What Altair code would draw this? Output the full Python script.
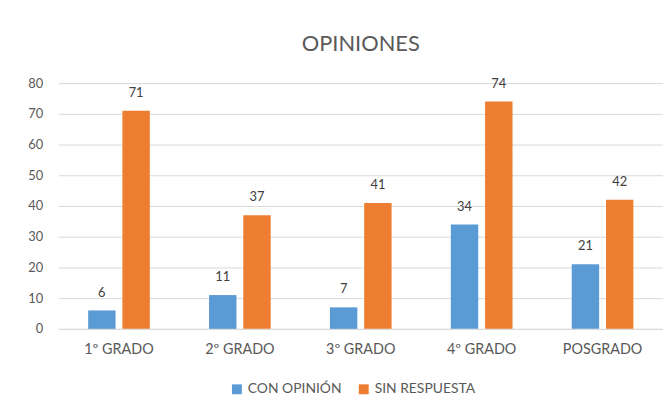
import altair as alt
import pandas as pd

categories = ["1º GRADO", "2º GRADO", "3º GRADO", "4º GRADO", "POSGRADO"]
series_names = ["CON OPINIÓN", "SIN RESPUESTA"]
con_opinion = [6, 11, 7, 34, 21]
sin_respuesta = [71, 37, 41, 74, 42]
y_ticks = [0, 10, 20, 30, 40, 50, 60, 70, 80]

rows = []
for i, c in enumerate(categories):
    rows.append({"cat": c, "serie": series_names[0], "valor": con_opinion[i]})
    rows.append({"cat": c, "serie": series_names[1], "valor": sin_respuesta[i]})
df = pd.DataFrame(rows)

FONT = "Lato"
GRAY = "#595959"

x = alt.X("cat:N", sort=categories, title=None,
          scale=alt.Scale(paddingInner=0.49, paddingOuter=0.245),
          axis=alt.Axis(labelAngle=0, labelFontSize=14.5, labelColor=GRAY, labelFont=FONT,
                        ticks=False, domainColor="#d9d9d9", labelPadding=14, grid=False))
xoff = alt.XOffset("serie:N", sort=series_names, scale=alt.Scale(paddingInner=0.2))
y = alt.Y("valor:Q", title=None,
          scale=alt.Scale(domain=[0, 80]),
          axis=alt.Axis(values=y_ticks, labelFontSize=13, labelColor=GRAY, labelFont=FONT,
                        ticks=False, domain=False, gridColor="#d9d9d9", labelPadding=16))
color = alt.Color("serie:N", sort=series_names,
                  scale=alt.Scale(domain=series_names, range=["#5B9BD5", "#ED7D31"]),
                  legend=alt.Legend(title=None, orient="none", direction="horizontal",
                                    legendX=173, legendY=302,
                                    symbolType="square", symbolSize=100, symbolStrokeWidth=0,
                                    labelFontSize=14, labelColor=GRAY, labelFont=FONT,
                                    labelOffset=4, columnPadding=15))

base = alt.Chart(df)
bars = base.mark_bar().encode(x=x, xOffset=xoff, y=y, color=color)
labels = base.mark_text(baseline="alphabetic", dy=-14, fontSize=13, color="#404040", font=FONT).encode(
    x=x, xOffset=xoff, y=y, text="valor:Q")

chart = (bars + labels).properties(
    width=610, height=248,
    title=alt.TitleParams("OPINIONES", fontSize=22, font=FONT, fontWeight="normal",
                          color=GRAY, anchor="middle", offset=21),
    autosize=alt.AutoSizeParams(type="none"),
    padding={"left": 51, "top": 74, "right": 0, "bottom": 70},
).configure_view(stroke=None)

chart.save("out.html", embed_options={"renderer": "svg", "actions": False})
